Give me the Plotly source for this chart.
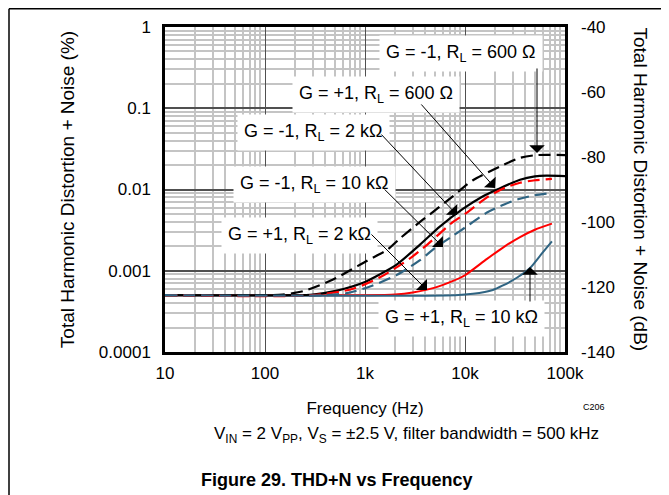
import numpy as np
import plotly.graph_objects as go

# ---- data (frequency in Hz, THD+N in %) ----
f_m1_600 = [10, 100, 150, 240, 480, 1050, 1660, 2240, 3550, 4800, 7600, 12000, 24000, 35500, 52000, 100000]
v_m1_600 = [0.0005, 0.0005, 0.00051, 0.00056, 0.00078, 0.00133, 0.0018, 0.0025, 0.0040, 0.0053, 0.0083, 0.0130, 0.0200, 0.0245, 0.0265, 0.0265]

f_p1_600 = [10, 200, 300, 525, 955, 1400, 2090, 3550, 5600, 9600, 15000, 21000, 35500, 50000, 65000, 100000]
v_p1_600 = [0.0005, 0.0005, 0.00051, 0.00057, 0.00071, 0.0009, 0.0012, 0.0021, 0.0035, 0.0058, 0.0082, 0.0100, 0.0132, 0.0145, 0.0148, 0.0146]

f_m1_2k = [10, 300, 760, 1413, 2818, 4200, 7600, 10000, 16600, 25000, 35500, 50000, 74000]
v_m1_2k = [0.0005, 0.0005, 0.0006, 0.00083, 0.00142, 0.0021, 0.0040, 0.0050, 0.0080, 0.0105, 0.0121, 0.0130, 0.0135]

f_m1_10k = [10, 400, 660, 1122, 2089, 3548, 5000, 7600, 10000, 16600, 25000, 35500, 50000, 66000]
v_m1_10k = [0.0005, 0.0005, 0.00053, 0.00064, 0.00089, 0.00135, 0.0019, 0.0027, 0.0034, 0.0052, 0.0066, 0.0077, 0.0085, 0.0089]

f_p1_2k = [10, 1000, 2000, 3000, 5000, 7600, 10000, 16600, 25000, 35500, 50000, 74000]
v_p1_2k = [0.0005, 0.0005, 0.00051, 0.00054, 0.00062, 0.00075, 0.00088, 0.0014, 0.0020, 0.0026, 0.0032, 0.0038]

f_p1_10k = [10, 8000, 12000, 19000, 24000, 33000, 44700, 58000, 74000]
v_p1_10k = [0.0005, 0.0005, 0.00052, 0.00058, 0.00066, 0.00082, 0.00108, 0.0016, 0.0023]

y_ticks = [0.0001, 0.001, 0.01, 0.1, 1]
y_tick_text = ["0.0001", "0.001", "0.01", "0.1", "1"]
x_ticks = [10, 100, 1000, 10000, 100000]
x_tick_text = ["10", "100", "1k", "10k", "100k"]
db_ticks = [-140, -120, -100, -80, -60, -40]
db_tick_text = ["-140", "-120", "-100", "-80", "-60", "-40"]

labels = ["G = -1, R<sub>L</sub> = 600 Ω", "G = +1, R<sub>L</sub> = 600 Ω", "G = -1, R<sub>L</sub> = 2 kΩ",
          "G = -1, R<sub>L</sub> = 10 kΩ", "G = +1, R<sub>L</sub> = 2 kΩ", "G = +1, R<sub>L</sub> = 10 kΩ"]

FONT = "Arial, Liberation Sans, sans-serif"
BLUE = "#2f6482"
RED = "#ff0000"

fig = go.Figure()
series = [
    (f_p1_2k, v_p1_2k, RED, "solid", 2.0, labels[4]),
    (f_p1_10k, v_p1_10k, BLUE, "solid", 2.0, labels[5]),
    (f_p1_600, v_p1_600, "black", "solid", 2.2, labels[1]),
    (f_m1_600, v_m1_600, "black", "12px,6px", 2.2, labels[0]),
    (f_m1_2k, v_m1_2k, RED, "12px,6px", 2.2, labels[2]),
    (f_m1_10k, v_m1_10k, BLUE, "12px,6px", 2.2, labels[3]),
]
for fx, vy, col, dash, w, name in series:
    fig.add_trace(go.Scatter(x=fx, y=vy, mode="lines", name=name,
                             line=dict(color=col, dash=dash, width=w, shape="spline", smoothing=0.7),
                             showlegend=False))
# invisible trace that activates the right-hand dB axis
fig.add_trace(go.Scatter(x=[10], y=[-140], yaxis="y2", mode="markers", marker=dict(opacity=0),
                         showlegend=False, hoverinfo="skip"))

minor_x = [m * 10 ** d for d in range(1, 5) for m in range(2, 10)]
minor_y = [m * 10 ** d for d in range(-4, 0) for m in range(2, 10)]

# page body has an 8px margin -> figure is 8px smaller and offset
fig.update_layout(
    width=661, height=487,
    margin=dict(l=157, r=104, t=19, b=143, autoexpand=False),
    paper_bgcolor="white", plot_bgcolor="white",
    font=dict(family=FONT, size=17, color="black"),
    xaxis=dict(type="log", range=[1, 5], tickvals=x_ticks, ticktext=x_tick_text, automargin=False,
               showgrid=True, gridcolor="#505050", gridwidth=1.3,
               minor=dict(tickvals=minor_x, showgrid=True, gridcolor="#c4c4c4", gridwidth=2),
               showline=True, linecolor="black", linewidth=2.5, mirror=True,
               ticks="", ticklabelstandoff=4,
               title=dict(text="Frequency (Hz)", standoff=20, font=dict(size=17)),
               zeroline=False),
    yaxis=dict(type="log", range=[-4, 0], tickvals=y_ticks, ticktext=y_tick_text, automargin=False,
               showgrid=True, gridcolor="#505050", gridwidth=1.5,
               minor=dict(tickvals=minor_y, showgrid=True, gridcolor="#c4c4c4", gridwidth=2),
               showline=True, linecolor="black", linewidth=2.5, mirror=True,
               ticks="", ticklabelstandoff=8,
               title=dict(text="Total Harmonic Distortion + Noise (%)", standoff=20, font=dict(size=19))),
    yaxis2=dict(overlaying="y", side="right", range=[-140, -40], tickvals=db_ticks, ticktext=db_tick_text,
                automargin=False, showgrid=False, zeroline=False, ticks="", ticklabelstandoff=15),
)

# right-hand axis title, reading top to bottom
fig.add_annotation(text="Total Harmonic Distortion + Noise (dB)", x=1.1875, y=0.5, xref="paper", yref="paper",
                   textangle=90, showarrow=False, xanchor="center", yanchor="middle", font=dict(size=19))

# label boxes (paper coords)
label_pos = [(0.74, 0.918), (0.5275, 0.791), (0.37, 0.674), (0.3725, 0.515), (0.335, 0.36), (0.74, 0.102)]
for txt, (px, py) in zip(labels, label_pos):
    fig.add_annotation(text=txt, x=px, y=py, xref="paper", yref="paper", showarrow=False,
                       xanchor="center", yanchor="middle",
                       bgcolor="white", borderpad=6, font=dict(size=18))

# arrows: (tip logf, tip logv, tail logf, tail logv)
arrows = [(4.72, -1.551, 4.72, -0.492), (4.30, -1.98, 3.55, -0.935), (3.92, -2.314, 3.15, -1.305),
          (3.78, -2.708, 3.18, -1.98), (3.62, -3.237, 3.05, -2.535), (4.65, -2.954, 4.65, -3.397)]
for tx, ty, ax, ay in arrows:
    fig.add_annotation(x=tx, y=ty, ax=ax, ay=ay, xref="x", yref="y", axref="x", ayref="y",
                       text="", showarrow=True, arrowhead=1, arrowsize=2.6, arrowwidth=1, arrowcolor="black")

# footnote, code, figure title
fig.add_annotation(text="C206", x=1.105, y=-0.19, xref="paper", yref="paper", showarrow=False, font=dict(size=9))
fig.add_annotation(text="V<sub>IN</sub> = 2 V<sub>PP</sub>, V<sub>S</sub> = ±2.5 V, filter bandwidth = 500 kHz",
                   x=0.6025, y=-0.295, xref="paper", yref="paper", showarrow=False, font=dict(size=17))
fig.add_annotation(text="<b>Figure 29. THD+N vs Frequency</b>", x=0.43, y=-0.431, xref="paper", yref="paper",
                   showarrow=False, font=dict(size=18))

# page frame (top and left edges)
fig.add_shape(type="line", xref="paper", yref="paper", x0=-0.39, x1=1.3, y0=1.056, y1=1.056,
              line=dict(color="black", width=1.5))
fig.add_shape(type="line", xref="paper", yref="paper", x0=-0.39, x1=-0.39, y0=1.056, y1=-0.5,
              line=dict(color="black", width=1.5))

fig.write_html("out.html")
